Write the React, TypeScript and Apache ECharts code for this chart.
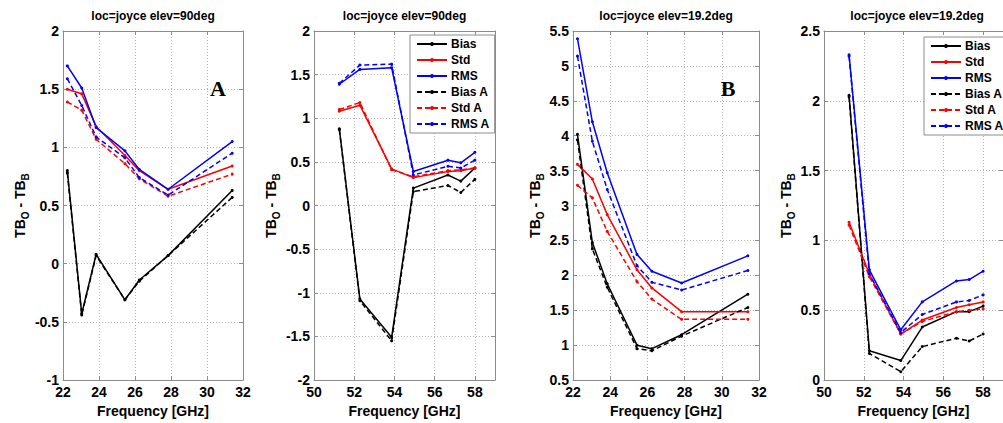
import React, { useEffect, useRef } from 'react';
import * as echarts from 'echarts';

const FONT = '"Liberation Sans", Arial, Helvetica, sans-serif';

// Channel frequencies [GHz]
const freqK = [22.24, 23.04, 23.84, 25.44, 26.24, 27.84, 31.4];
const freqV = [51.26, 52.28, 53.86, 54.94, 56.66, 57.3, 58.0];

const seriesNames = ['Bias', 'Std', 'RMS', 'Bias A', 'Std A', 'RMS A'];

// Panel 1: K-band, elev 90
const biasK90 = [0.8, -0.43, 0.08, -0.31, -0.14, 0.07, 0.63];
const stdK90 = [1.5, 1.46, 1.18, 0.93, 0.8, 0.64, 0.84];
const rmsK90 = [1.7, 1.51, 1.17, 0.97, 0.81, 0.64, 1.05];
const biasAK90 = [0.78, -0.44, 0.07, -0.31, -0.15, 0.07, 0.57];
const stdAK90 = [1.39, 1.32, 1.07, 0.86, 0.73, 0.58, 0.77];
const rmsAK90 = [1.59, 1.36, 1.09, 0.91, 0.74, 0.59, 0.95];

// Panel 2: V-band, elev 90
const biasV90 = [0.88, -1.07, -1.51, 0.2, 0.35, 0.28, 0.43];
const stdV90 = [1.08, 1.15, 0.42, 0.32, 0.39, 0.4, 0.43];
const rmsV90 = [1.39, 1.56, 1.58, 0.39, 0.52, 0.49, 0.61];
const biasAV90 = [0.87, -1.09, -1.55, 0.16, 0.23, 0.15, 0.3];
const stdAV90 = [1.1, 1.18, 0.41, 0.33, 0.4, 0.41, 0.43];
const rmsAV90 = [1.4, 1.61, 1.62, 0.35, 0.45, 0.43, 0.52];

// Panel 3: K-band, elev 19.2
const biasK19 = [4.02, 2.47, 1.88, 1.0, 0.95, 1.15, 1.73];
const stdK19 = [3.59, 3.38, 2.87, 2.08, 1.82, 1.48, 1.48];
const rmsK19 = [5.39, 4.2, 3.47, 2.3, 2.06, 1.89, 2.28];
const biasAK19 = [3.94, 2.38, 1.83, 0.95, 0.92, 1.13, 1.54];
const stdAK19 = [3.29, 3.11, 2.63, 1.91, 1.66, 1.37, 1.37];
const rmsAK19 = [5.14, 3.92, 3.23, 2.14, 1.9, 1.79, 2.07];

// Panel 4: V-band, elev 19.2
const biasV19 = [2.04, 0.21, 0.14, 0.38, 0.49, 0.49, 0.53];
const stdV19 = [1.13, 0.76, 0.33, 0.43, 0.52, 0.54, 0.56];
const rmsV19 = [2.33, 0.79, 0.36, 0.56, 0.71, 0.72, 0.78];
const biasAV19 = [2.03, 0.19, 0.06, 0.24, 0.3, 0.28, 0.33];
const stdAV19 = [1.11, 0.74, 0.33, 0.42, 0.49, 0.5, 0.51];
const rmsAV19 = [2.32, 0.76, 0.34, 0.47, 0.56, 0.57, 0.61];

const titles = ['loc=joyce elev=90deg', 'loc=joyce elev=90deg', 'loc=joyce elev=19.2deg', 'loc=joyce elev=19.2deg'];
const xRanges = [[22, 32], [50, 59], [22, 32], [50, 59]];
const yRanges = [[-1, 2], [-2, 2], [0.5, 5.5], [0, 2.5]];
const freqs = [freqK, freqV, freqK, freqV];
const panelData = [
  [biasK90, stdK90, rmsK90, biasAK90, stdAK90, rmsAK90],
  [biasV90, stdV90, rmsV90, biasAV90, stdAV90, rmsAV90],
  [biasK19, stdK19, rmsK19, biasAK19, stdAK19, rmsAK19],
  [biasV19, stdV19, rmsV19, biasAV19, stdAV19, rmsAV19],
];

const colors = ['#000000', '#ff0000', '#0000ff', '#000000', '#ff0000', '#0000ff'];
const gridLeft = [63, 314, 573, 824];
const gridWidth = [180, 181, 186, 186];
const nameGaps = [31, 31, 27, 27];
const TOP = 31;
const BOTTOM = 41;
const AXIS_COLOR = '#8c8c8c';

export default function App() {
  const ref = useRef<HTMLDivElement>(null);
  useEffect(() => {
    if (!ref.current) return;
    const chart = echarts.init(ref.current, null, { renderer: 'svg' });

    const grids: any[] = [];
    const xAxes: any[] = [];
    const yAxes: any[] = [];
    const series: any[] = [];
    const graphics: any[] = [];

    for (let i = 0; i < 4; i++) {
      grids.push({ left: gridLeft[i], width: gridWidth[i], top: TOP, bottom: BOTTOM, containLabel: false });
      const [xmin, xmax] = xRanges[i];
      const [ymin, ymax] = yRanges[i];
      const common = {
        type: 'value',
        gridIndex: i,
        axisLine: { show: true, onZero: false, lineStyle: { color: AXIS_COLOR, width: 1 } },
        axisTick: { show: true, inside: true, length: 4, lineStyle: { color: AXIS_COLOR } },
      };
      xAxes.push({
        ...common,
        position: 'bottom',
        min: xmin,
        max: xmax,
        interval: 2,
        axisLabel: { color: '#000', fontWeight: 'bold', fontSize: 14, fontFamily: FONT, margin: 5, showMaxLabel: xmax === 32 },
        splitLine: { show: true, lineStyle: { color: '#b4b4b4', type: [1, 2], width: 1 } },
        name: 'Frequency [GHz]',
        nameLocation: 'middle',
        nameGap: 18,
        nameTextStyle: { color: '#000', fontWeight: 'bold', fontSize: 14, fontFamily: FONT },
      });
      xAxes.push({
        ...common,
        position: 'top',
        min: xmin,
        max: xmax,
        interval: 2,
        axisLabel: { show: false },
        splitLine: { show: false },
      });
      yAxes.push({
        ...common,
        position: 'left',
        min: ymin,
        max: ymax,
        interval: 0.5,
        axisLabel: { color: '#000', fontWeight: 'bold', fontSize: 14, fontFamily: FONT, margin: 4 },
        splitLine: { show: true, lineStyle: { color: '#b4b4b4', type: [1, 2], width: 1 } },
        name: '{m|TB}{s|O}{m| - TB}{s|B}',
        nameLocation: 'middle',
        nameGap: nameGaps[i],
        nameTextStyle: {
          color: '#000',
          rich: {
            m: { fontSize: 14, fontWeight: 'bold', fontFamily: FONT, lineHeight: 22, color: '#000' },
            s: { fontSize: 10, fontWeight: 'bold', fontFamily: FONT, lineHeight: 10, verticalAlign: 'bottom', color: '#000' },
          },
        },
      });
      yAxes.push({
        ...common,
        position: 'right',
        min: ymin,
        max: ymax,
        interval: 0.5,
        axisLabel: { show: false },
        splitLine: { show: false },
      });

      for (let s = 0; s < 6; s++) {
        series.push({
          type: 'line',
          name: seriesNames[s],
          xAxisIndex: 2 * i,
          yAxisIndex: 2 * i,
          data: freqs[i].map((f, k) => [f, panelData[i][s][k]]),
          symbol: 'circle',
          symbolSize: 3,
          showSymbol: true,
          color: colors[s],
          itemStyle: { color: colors[s] },
          lineStyle: { color: colors[s], width: 1.5, type: s >= 3 ? [5, 3] : 'solid' },
          z: 3,
          silent: true,
        });
      }

      graphics.push({
        type: 'text',
        x: gridLeft[i] + gridWidth[i] / 2,
        y: 16,
        style: { text: titles[i], align: 'center', verticalAlign: 'middle', fill: '#000', font: `bold 12px ${FONT}` },
      });
    }

    graphics.push({
      type: 'text', x: 218, y: 88,
      style: { text: 'A', align: 'center', verticalAlign: 'middle', fill: '#000', font: 'bold 22px "Liberation Serif", "Times New Roman", serif' },
      z: 10,
    });
    graphics.push({
      type: 'text', x: 728, y: 88,
      style: { text: 'B', align: 'center', verticalAlign: 'middle', fill: '#000', font: 'bold 22px "Liberation Serif", "Times New Roman", serif' },
      z: 10,
    });

    const legendCommon = {
      orient: 'vertical',
      data: seriesNames,
      itemWidth: 30,
      itemHeight: 5,
      itemGap: 4,
      padding: [3, 5, 3, 6],
      borderColor: AXIS_COLOR,
      borderWidth: 1,
      backgroundColor: '#ffffff',
      selectedMode: false,
      textStyle: { color: '#000', fontWeight: 'bold', fontSize: 12, fontFamily: FONT, padding: [0, 0, 0, -1] },
      z: 5,
    };

    chart.setOption({
      animation: false,
      backgroundColor: '#ffffff',
      grid: grids,
      xAxis: xAxes,
      yAxis: yAxes,
      series,
      legend: [
        { ...legendCommon, left: 410, top: 35 },
        { ...legendCommon, left: 924, top: 37 },
      ],
      graphic: graphics,
    });

    return () => chart.dispose();
  }, []);

  return (
    <div
      ref={ref}
      style={{ position: 'absolute', left: 0, top: 0, width: 1003, height: 423, overflow: 'hidden', background: '#fff' }}
    />
  );
}
